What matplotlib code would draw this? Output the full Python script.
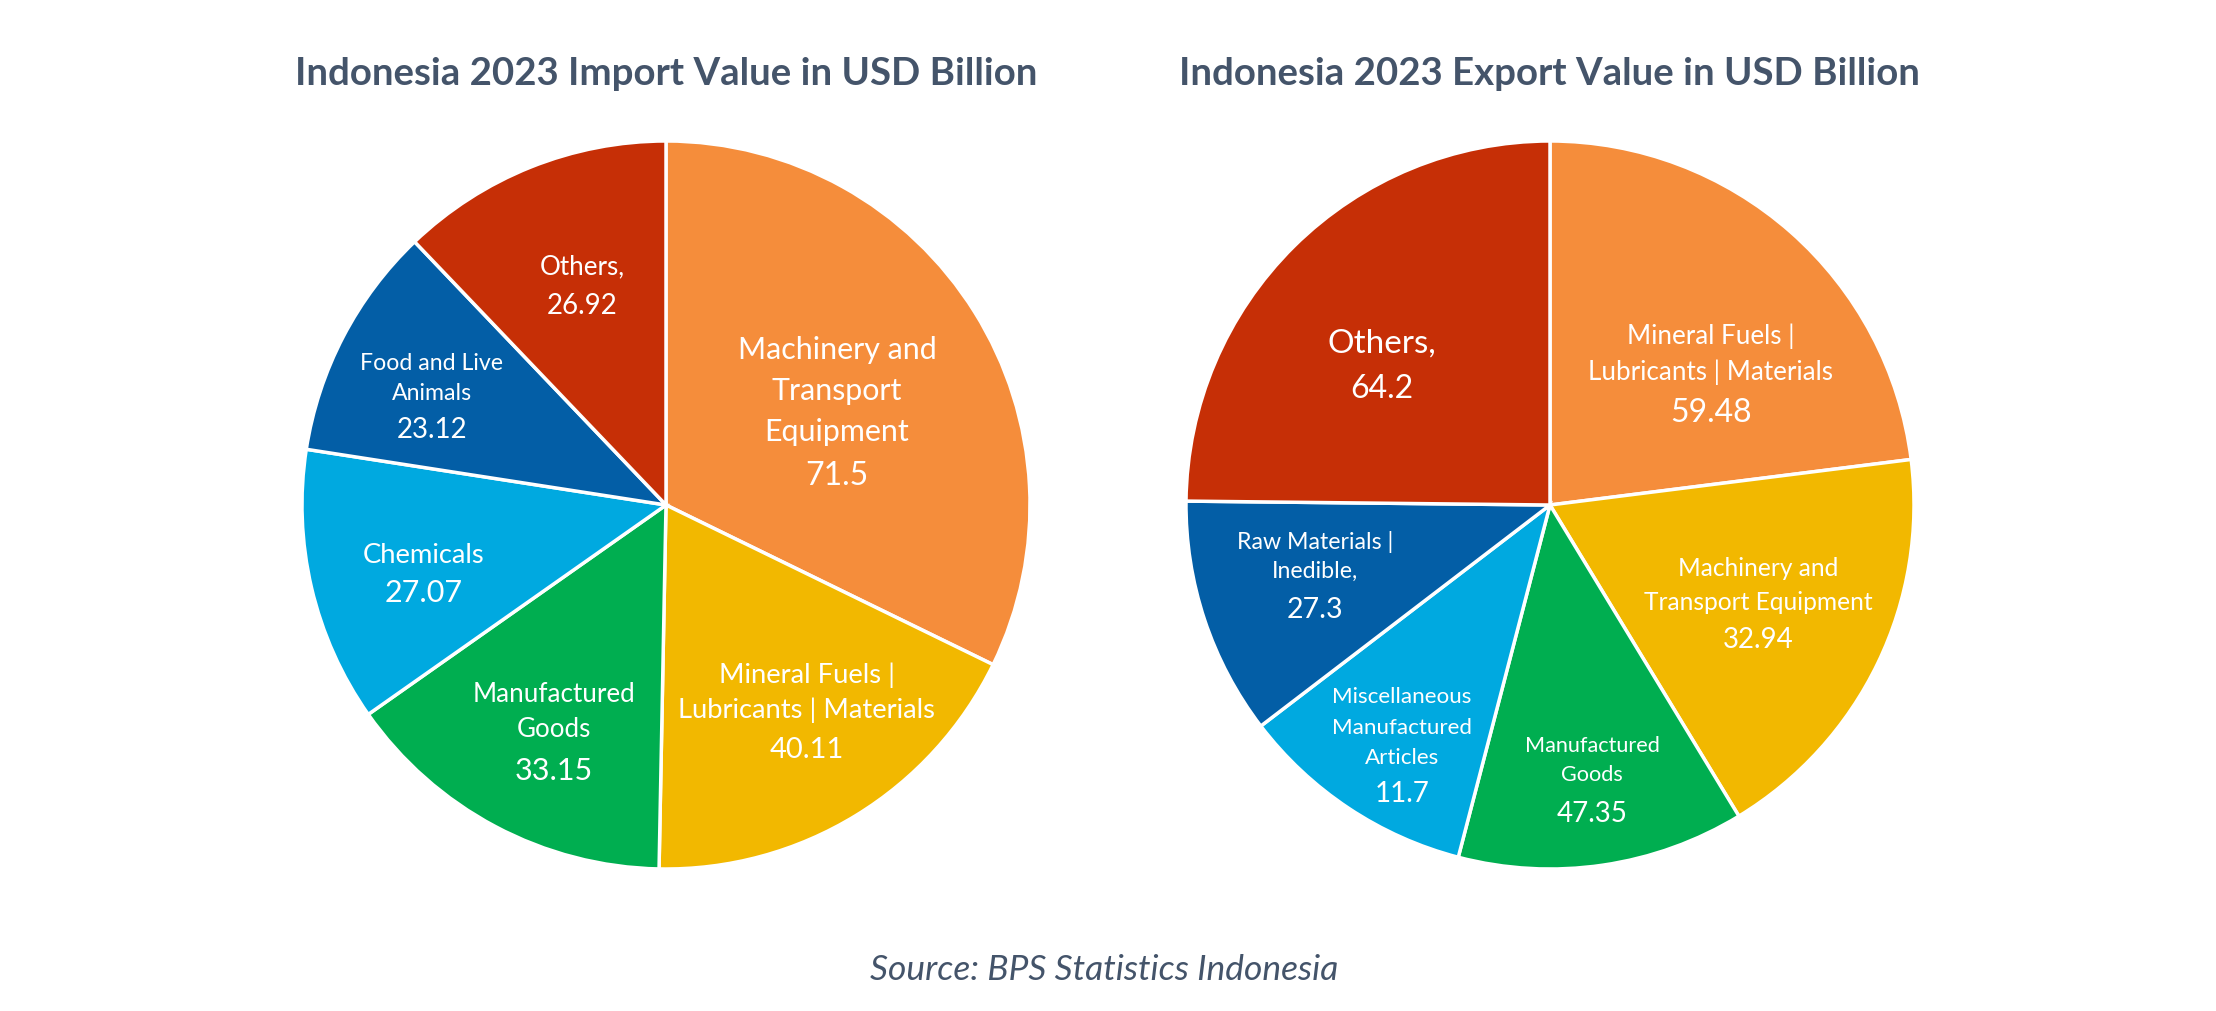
import matplotlib
matplotlib.use("Agg")
import matplotlib.pyplot as plt

# ---------------------------------------------------------------------------
# data
# ---------------------------------------------------------------------------
import_cats = ["Machinery and\nTransport\nEquipment", "Mineral Fuels |\nLubricants | Materials",
               "Manufactured\nGoods", "Chemicals", "Food and Live\nAnimals", "Others,"]
import_vals = [71.5, 40.11, 33.15, 27.07, 23.12, 26.92]

export_cats = ["Mineral Fuels |\nLubricants | Materials", "Machinery and\nTransport Equipment",
               "Manufactured\nGoods", "Miscellaneous\nManufactured\nArticles",
               "Raw Materials |\nInedible,", "Others,"]
export_vals = [59.48, 32.94, 47.35, 11.7, 27.3, 64.2]
# slice sizes as drawn in the reference (they do not follow the printed labels)
export_slices = [59.48, 47.35, 32.94, 27.3, 27.3, 64.2]

colors = ["#F58D3B", "#F2B800", "#00AE50", "#00A9E0", "#035EA6", "#C62F06"]
title_col = "#44546A"

W, H = 2216, 1011
plt.rcParams["font.family"] = ["Lato", "DejaVu Sans"]

fig = plt.figure(figsize=(W / 100, H / 100), dpi=100)
ax = fig.add_axes([0, 0, 1, 1])

R = 364
centers = [(666, H - 505), (1550, H - 505)]
for (cx, cy), vals in zip(centers, [import_vals, export_slices]):
    ax.pie(vals, colors=colors, startangle=90, counterclock=False,
           center=(cx, cy), radius=R,
           wedgeprops=dict(edgecolor="white", linewidth=2.5))

ax.set_xlim(0, W)
ax.set_ylim(0, H)
ax.set_aspect("equal")
ax.axis("off")

CAT_SCALE = 1.04   # Lato runs a bit narrower than the original font


# label layout: x, first line y, line step, cat size, number y, number size (pixels from top)
def draw_label(cat, val, x, y0, step, size, ny, nsize):
    for i, line in enumerate(cat.split("\n")):
        ax.text(x, H - (y0 + i * step), line, ha="center", va="center_baseline",
                color="white", fontsize=size * CAT_SCALE)
    ax.text(x, H - ny, f"{val:g}", ha="center", va="center_baseline",
            color="white", fontsize=nsize)


imp_pos = [(837, 348, 40.5, 21, 473, 23),
           (807, 673, 35, 19, 747, 21),
           (554, 692, 35, 18, 768, 22),
           (424, 553, 0, 19, 591, 22),
           (432, 362, 30, 16, 428, 20),
           (582, 264, 0, 18, 303, 20)]
exp_pos = [(1711, 334, 36, 18, 410, 23),
           (1758, 566, 35, 17, 638, 20),
           (1592, 744, 29, 15, 811, 20),
           (1402, 695, 30.5, 15.5, 791, 20),
           (1315, 540, 29, 16, 607, 20.5),
           (1382, 341, 0, 23, 386, 23)]

for cat, val, p in zip(import_cats, import_vals, imp_pos):
    draw_label(cat, val, *p)
for cat, val, p in zip(export_cats, export_vals, exp_pos):
    draw_label(cat, val, *p)

ax.text(666, H - 71, "Indonesia 2023 Import Value in USD Billion", ha="center",
        va="center_baseline", fontsize=27.6, fontweight="bold", color=title_col)
ax.text(1549, H - 71, "Indonesia 2023 Export Value in USD Billion", ha="center",
        va="center_baseline", fontsize=27.6, fontweight="bold", color=title_col)
ax.text(1104, H - 967, "Source: BPS Statistics Indonesia", ha="center",
        va="center_baseline", fontsize=25.5, style="italic", color=title_col)

fig.savefig("out.png", dpi=100)
